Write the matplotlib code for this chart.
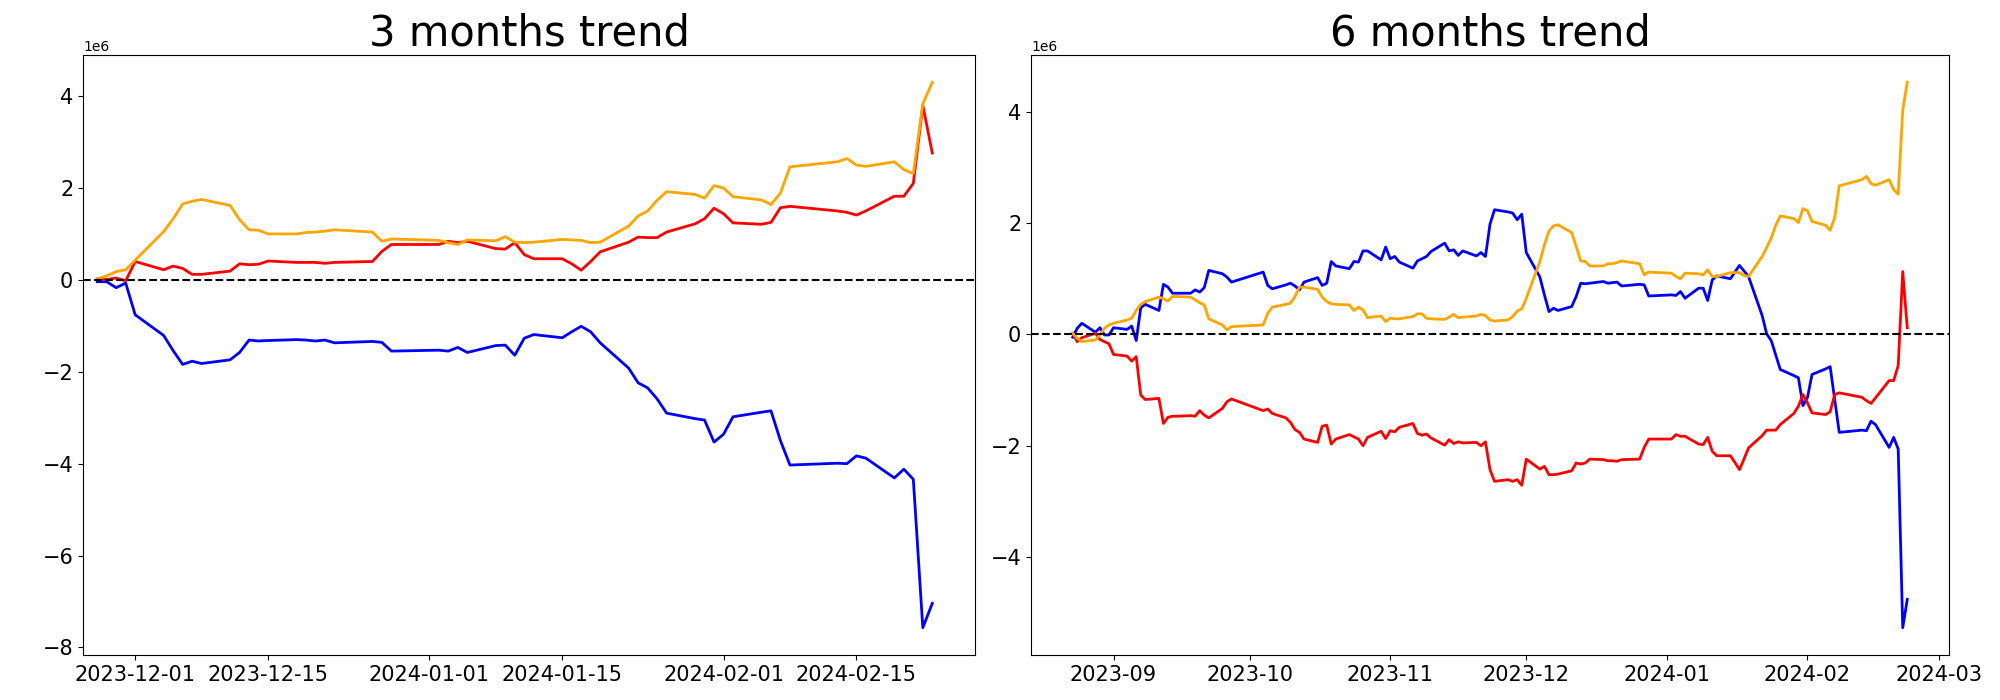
import numpy as np
import pandas as pd
import matplotlib
matplotlib.use('Agg')
import matplotlib.pyplot as plt

# Jours de cotation (jours ouvrés moins les jours sans données)
jours_3m = pd.bdate_range('2023-11-27', '2024-02-23')
trous_3m = ['2023-12-25', '2023-12-29', '2024-01-01', '2024-02-09', '2024-02-12']
jours_3m = jours_3m.drop(pd.to_datetime(trous_3m))

jours_6m = pd.bdate_range('2023-08-23', '2024-02-23')
trous_6m = ['2023-09-28', '2023-09-29', '2023-10-02', '2023-10-03',
            '2023-12-25', '2023-12-29', '2024-01-01', '2024-02-09', '2024-02-12']
jours_6m = jours_6m.drop(pd.to_datetime(trous_6m))

# Valeurs cumulées, en millions
bleu_3m = [-0.04, -0.04, -0.17, -0.07,
           -0.76, -1.21, -1.54, -1.84, -1.77, -1.82, -1.74, -1.58, -1.31, -1.33, -1.32, -1.30, -1.31, -1.33, -1.31, -1.37, -1.34, -1.36, -1.55,
           -1.53, -1.55, -1.47, -1.58, -1.43, -1.42, -1.64, -1.27, -1.19, -1.26, -1.13, -1.01, -1.13, -1.37, -1.92, -2.24, -2.35, -2.59, -2.90, -3.02, -3.05, -3.53,
           -3.36, -2.98, -2.88, -2.85, -3.50, -4.03, -3.99, -4.00, -3.83, -3.88, -4.31, -4.12, -4.34, -7.57, -7.04]
rouge_3m = [0.02, 0.01, 0.04, -0.02,
            0.40, 0.22, 0.30, 0.25, 0.12, 0.12, 0.19, 0.35, 0.33, 0.34, 0.41, 0.38, 0.38, 0.38, 0.36, 0.38, 0.40, 0.62, 0.77,
            0.77, 0.84, 0.81, 0.84, 0.68, 0.67, 0.81, 0.55, 0.46, 0.46, 0.35, 0.21, 0.40, 0.61, 0.82, 0.93, 0.92, 0.92, 1.04, 1.22, 1.33, 1.56,
            1.44, 1.24, 1.21, 1.25, 1.57, 1.60, 1.50, 1.47, 1.41, 1.50, 1.82, 1.82, 2.10, 3.80, 2.76]
orange_3m = [0.02, 0.09, 0.18, 0.22,
             0.43, 1.05, 1.33, 1.65, 1.71, 1.75, 1.62, 1.31, 1.09, 1.08, 1.00, 1.00, 1.03, 1.04, 1.06, 1.09, 1.04, 0.84, 0.89,
             0.86, 0.81, 0.77, 0.87, 0.85, 0.94, 0.82, 0.81, 0.82, 0.88, 0.87, 0.86, 0.81, 0.82, 1.17, 1.39, 1.50, 1.73, 1.92, 1.86, 1.78, 2.05,
             2.00, 1.81, 1.74, 1.64, 1.89, 2.46, 2.57, 2.64, 2.50, 2.47, 2.57, 2.40, 2.31, 3.83, 4.30]

bleu_6m = [-0.05, 0.11, 0.20, 0.04, 0.12, -0.01, -0.01,
           0.12, 0.09, 0.15, -0.11, 0.48, 0.54, 0.43, 0.90, 0.85, 0.74, 0.74, 0.74, 0.80, 0.76, 0.84, 1.15, 1.09, 1.03, 0.94,
           1.12, 0.88, 0.82, 0.89, 0.92, 0.87, 0.80, 0.94, 1.02, 0.88, 0.92, 1.31, 1.23, 1.18, 1.31, 1.30, 1.50, 1.50, 1.34, 1.57,
           1.36, 1.40, 1.30, 1.19, 1.32, 1.36, 1.40, 1.49, 1.64, 1.50, 1.52, 1.42, 1.50, 1.41, 1.47, 1.40, 1.98, 2.24, 2.20, 2.18, 2.06, 2.16,
           1.47, 1.03, 0.71, 0.41, 0.47, 0.43, 0.50, 0.68, 0.92, 0.91, 0.92, 0.95, 0.92, 0.93, 0.94, 0.87, 0.90, 0.89, 0.69,
           0.71, 0.70, 0.77, 0.65, 0.83, 0.83, 0.61, 0.98, 1.05, 1.00, 1.12, 1.24, 1.14, 1.04, 0.34, 0.01, -0.11, -0.37, -0.63, -0.74, -0.78, -1.28,
           -1.13, -0.72, -0.62, -0.58, -1.17, -1.76, -1.72, -1.73, -1.56, -1.62, -2.03, -1.85, -2.06, -5.27, -4.76]
rouge_6m = [0.02, -0.13, -0.06, 0.02, -0.09, -0.13, -0.17,
            -0.36, -0.39, -0.48, -0.40, -1.09, -1.17, -1.15, -1.60, -1.49, -1.47, -1.47, -1.46, -1.47, -1.37, -1.45, -1.50, -1.33, -1.21, -1.16,
            -1.37, -1.34, -1.42, -1.50, -1.58, -1.71, -1.76, -1.88, -1.94, -1.65, -1.63, -1.97, -1.88, -1.80, -1.84, -1.88, -2.00, -1.85, -1.74, -1.87,
            -1.73, -1.75, -1.67, -1.60, -1.78, -1.81, -1.79, -1.86, -1.99, -1.89, -1.96, -1.93, -1.95, -1.94, -2.00, -1.93, -2.43, -2.64, -2.61, -2.64, -2.61, -2.71,
            -2.24, -2.42, -2.37, -2.52, -2.52, -2.51, -2.45, -2.31, -2.33, -2.31, -2.24, -2.25, -2.27, -2.27, -2.28, -2.25, -2.24, -2.03, -1.88,
            -1.88, -1.80, -1.83, -1.83, -1.97, -1.98, -1.85, -2.10, -2.18, -2.18, -2.30, -2.43, -2.24, -2.04, -1.82, -1.72, -1.72, -1.72, -1.62, -1.42, -1.29, -1.08,
            -1.23, -1.41, -1.44, -1.39, -1.08, -1.05, -1.13, -1.19, -1.24, -1.14, -0.83, -0.83, -0.56, 1.13, 0.12]
orange_6m = [0.02, -0.07, -0.13, -0.10, -0.01, 0.11, 0.17,
             0.20, 0.26, 0.29, 0.43, 0.54, 0.59, 0.67, 0.64, 0.60, 0.68, 0.68, 0.67, 0.62, 0.57, 0.53, 0.28, 0.17, 0.08, 0.14,
             0.17, 0.38, 0.49, 0.54, 0.56, 0.68, 0.85, 0.85, 0.81, 0.67, 0.59, 0.55, 0.54, 0.53, 0.43, 0.49, 0.44, 0.30, 0.33, 0.23,
             0.29, 0.28, 0.28, 0.32, 0.37, 0.37, 0.29, 0.28, 0.27, 0.31, 0.36, 0.30, 0.31, 0.33, 0.36, 0.34, 0.26, 0.24, 0.26, 0.32, 0.42, 0.46,
             0.65, 1.31, 1.61, 1.86, 1.95, 1.97, 1.83, 1.58, 1.32, 1.31, 1.23, 1.23, 1.27, 1.27, 1.29, 1.32, 1.27, 1.07, 1.12,
             1.10, 1.04, 1.00, 1.10, 1.09, 1.07, 1.16, 1.04, 1.04, 1.11, 1.11, 1.11, 1.06, 1.04, 1.40, 1.56, 1.73, 1.96, 2.13, 2.08, 2.01, 2.26,
             2.22, 2.03, 1.96, 1.87, 2.10, 2.67, 2.78, 2.84, 2.71, 2.68, 2.78, 2.60, 2.52, 4.03, 4.53]


def trace(ax, jours, bleu, rouge, orange, titre):
    '''trace les trois courbes cumulées sur ax, avec la ligne du zéro'''
    ax.plot(jours, np.array(bleu) * 1e6, c='blue', lw=2)
    ax.plot(jours, np.array(rouge) * 1e6, c='red', lw=2)
    ax.plot(jours, np.array(orange) * 1e6, c='orange', lw=2)
    ax.axhline(0, color='black', linestyle='--', lw=1.5)
    ax.set_title(titre, fontsize=30)
    ax.tick_params(labelsize=15)


fig = plt.figure(figsize=(20, 7), dpi=100)
ax1 = fig.add_axes([83 / 2000, 45 / 700, 892 / 2000, 600 / 700])
ax2 = fig.add_axes([1031 / 2000, 45 / 700, 918 / 2000, 600 / 700])

trace(ax1, jours_3m, bleu_3m, rouge_3m, orange_3m, '3 months trend')
trace(ax2, jours_6m, bleu_6m, rouge_6m, orange_6m, '6 months trend')

# la fenêtre du graphe 3 mois est moins large à gauche que la marge par défaut
ax1.set_xlim(pd.Timestamp('2023-11-25 12:00'), pd.Timestamp('2024-02-27 12:00'))

fig.savefig('out.png', dpi=100)
